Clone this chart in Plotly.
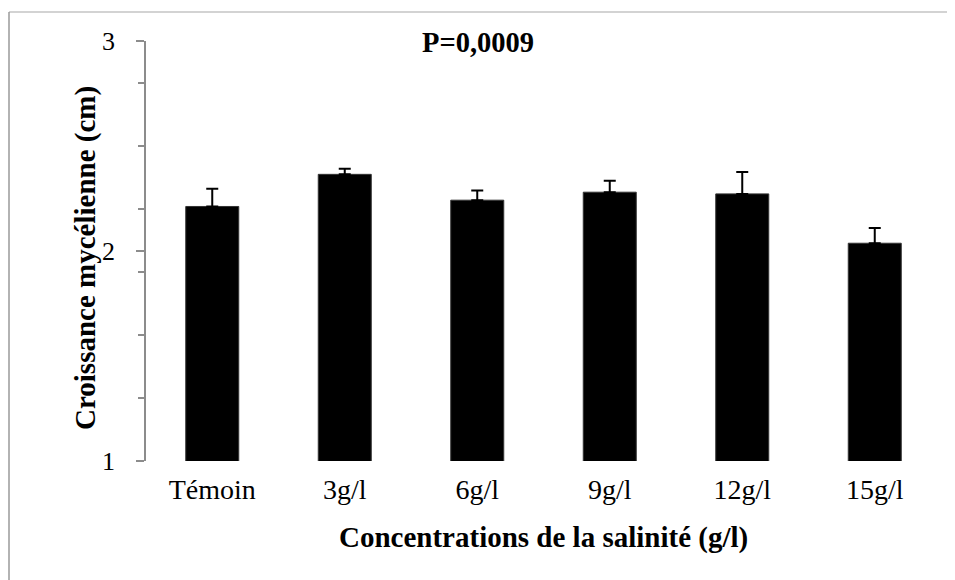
import plotly.graph_objects as go

categories = ["Témoin", "3g/l", "6g/l", "9g/l", "12g/l", "15g/l"]
means = [2.212, 2.365, 2.242, 2.280, 2.272, 2.037]
errors = [0.085, 0.027, 0.046, 0.054, 0.104, 0.073]
y_ticks = [1, 2, 3]
p_text = "P=0,0009"

# page body adds an 8px margin, so the figure is sized to fit the window
W, H = 947, 572
L, R, T, B = 138, 14, 33, 119
pw, ph = W - L - R, H - T - B

def px(x):
    return (x - L) / pw

def py(y):
    return (H - B - y) / ph

font = "Liberation Serif, Times New Roman, serif"

fig = go.Figure()
fig.add_trace(go.Bar(
    x=categories, y=means,
    marker=dict(color="black", line=dict(color="#333333", width=1)),
    error_y=dict(type="data", array=errors, arrayminus=[0] * len(errors),
                 symmetric=False, color="black", thickness=2, width=6),
    width=0.4,
))

fig.update_layout(
    width=W, height=H,
    margin=dict(l=L, r=R, t=T, b=B),
    paper_bgcolor="white", plot_bgcolor="white",
    showlegend=False,
    font=dict(family=font, color="black"),
    xaxis=dict(showline=False, ticks="", showgrid=False, zeroline=False,
               tickfont=dict(size=28, family=font, color="black"),
               ticklabelstandoff=9),
    yaxis=dict(range=[1, 3], tickvals=y_ticks, showgrid=False, zeroline=False,
               showline=True, linecolor="#8c8c8c", linewidth=1.5,
               ticks="outside", ticklen=8, tickwidth=1.5, tickcolor="#8c8c8c",
               minor=dict(tick0=1, dtick=0.3, ticks="outside", ticklen=6,
                          tickwidth=1.5, tickcolor="#8c8c8c"),
               tickfont=dict(size=26, family=font, color="black"),
               ticklabelstandoff=16),
    annotations=[
        dict(text="<b>Croissance mycélienne (cm)</b>", xref="paper", yref="paper",
             x=px(78), y=py(250), textangle=-90, showarrow=False,
             font=dict(size=29, family=font, color="black"),
             xanchor="center", yanchor="middle"),
        dict(text="<b>Concentrations de la salinité (g/l)</b>", xref="paper", yref="paper",
             x=px(535), y=py(529), showarrow=False,
             font=dict(size=29, family=font, color="black"),
             xanchor="center", yanchor="middle"),
        dict(text="<b>" + p_text + "</b>", xref="paper", yref="paper",
             x=px(470), y=py(34), showarrow=False,
             font=dict(size=28.5, family=font, color="black"),
             xanchor="center", yanchor="middle"),
    ],
    shapes=[
        dict(type="line", xref="paper", yref="paper",
             x0=px(1), x1=px(W), y0=py(4), y1=py(4),
             line=dict(color="#c4c4c4", width=1.5)),
        dict(type="line", xref="paper", yref="paper",
             x0=px(1), x1=px(1), y0=py(4), y1=py(H),
             line=dict(color="#9a9a9a", width=1.5)),
    ],
)

fig.write_html("out.html")
